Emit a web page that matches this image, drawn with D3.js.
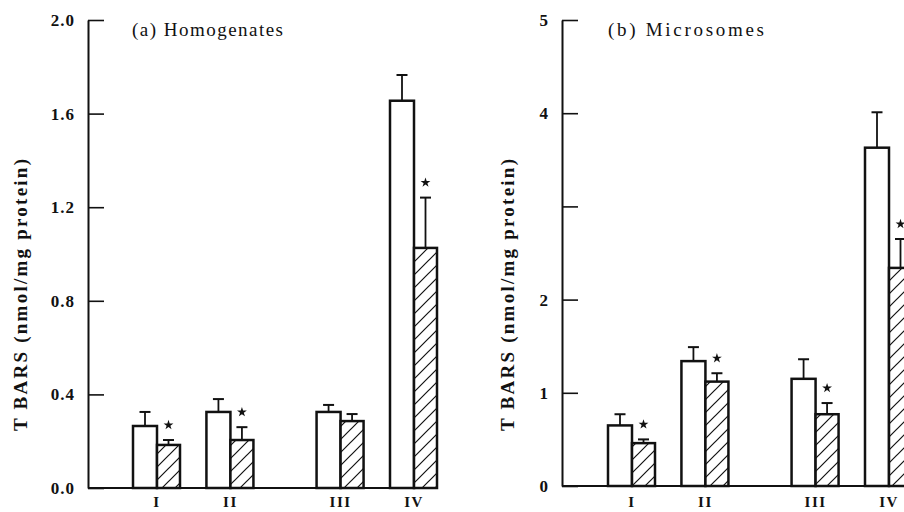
<!DOCTYPE html>
<html>
<head>
<meta charset="utf-8">
<script src="https://cdn.jsdelivr.net/npm/d3@7"></script>
<style>
  body { margin: 0; background: #fff; }
  text { font-family: "Liberation Serif", "Times New Roman", serif; fill: #111; }
</style>
</head>
<body>
<script>
const groups = ["I", "II", "III", "IV"];
// slots used to leave the wider gap between II and III
const slots = ["I", "s1", "II", "s2", "s3", "III", "s4", "IV"];

// (a) Homogenates
const homogControl = [0.265, 0.325, 0.325, 1.655];
const homogControlErr = [0.06, 0.055, 0.03, 0.11];
const homogTreated = [0.184, 0.205, 0.286, 1.026];
const homogTreatedErr = [0.021, 0.055, 0.03, 0.215];
const homogSig = [true, true, false, true];
const homogTicks = [0, 0.4, 0.8, 1.2, 1.6, 2.0];

// (b) Microsomes
const microControl = [0.65, 1.34, 1.15, 3.63];
const microControlErr = [0.12, 0.15, 0.21, 0.38];
const microTreated = [0.46, 1.12, 0.77, 2.34];
const microTreatedErr = [0.04, 0.09, 0.12, 0.31];
const microSig = [true, true, true, true];
const microTicks = [0, 1, 2, 3, 4, 5];
const microTickLabels = ["0", "1", "2", "", "4", "5"];

const yLabel = "T BARS (nmol/mg protein)";

const width = 904, height = 512;
const openW = 24, hatchW = 23;

const svg = d3.select("body").append("svg")
    .attr("width", width)
    .attr("height", height);

const pat = svg.append("defs").append("pattern")
    .attr("id", "hatch")
    .attr("patternUnits", "userSpaceOnUse")
    .attr("width", 13)
    .attr("height", 13);
pat.append("rect").attr("width", 13).attr("height", 13).attr("fill", "#fff");
pat.append("path")
    .attr("d", "M-3,3 L3,-3 M0,13 L13,0 M10,16 L16,10")
    .attr("stroke", "#111")
    .attr("stroke-width", 1.2);

const panels = [
  { title: "(a) Homogenates", titleX: 132, titleLen: 151, axisX: 88, x0: 157, bottom: 488, yMax: 2,
    ticks: homogTicks, fmt: d3.format(".1f"), labelX: 20,
    control: homogControl, controlErr: homogControlErr,
    treated: homogTreated, treatedErr: homogTreatedErr, sig: homogSig },
  { title: "(b) Microsomes", titleX: 608, titleLen: 156, axisX: 562, x0: 632, bottom: 486, yMax: 5,
    ticks: microTicks, fmt: (d, i) => microTickLabels[i], labelX: 507,
    control: microControl, controlErr: microControlErr,
    treated: microTreated, treatedErr: microTreatedErr, sig: microSig }
];

panels.forEach(p => {
  const x = d3.scalePoint().domain(slots).range([p.x0, p.x0 + 257]);
  const y = d3.scaleLinear().domain([0, p.yMax]).range([p.bottom, 20]);
  const g = svg.append("g");

  // y axis, ticks pointing inward
  const ax = g.append("g")
      .attr("transform", `translate(${p.axisX},0)`)
      .call(d3.axisLeft(y)
        .tickValues(p.ticks)
        .tickSizeInner(-16)
        .tickSizeOuter(0)
        .tickPadding(13)
        .tickFormat(p.fmt));
  ax.select(".domain").attr("stroke", "#111").attr("stroke-width", 2);
  ax.selectAll(".tick line").attr("stroke", "#111").attr("stroke-width", 1.6);
  ax.selectAll(".tick text")
      .style("font-family", "'Liberation Serif', serif")
      .style("font-size", "17px")
      .style("font-weight", "bold")
      .style("letter-spacing", "1px")
      .attr("fill", "#111");

  // baseline
  g.append("line")
      .attr("x1", p.axisX).attr("x2", x("IV") + hatchW)
      .attr("y1", y(0)).attr("y2", y(0))
      .attr("stroke", "#111").attr("stroke-width", 2.2);

  const rows = groups.map((k, i) => ({
    k, c: p.control[i], ce: p.controlErr[i], t: p.treated[i], te: p.treatedErr[i], s: p.sig[i]
  }));

  // error bars (upper only)
  const err = (cx, v, e) => {
    g.append("line").attr("x1", cx).attr("x2", cx)
        .attr("y1", y(v)).attr("y2", y(v + e))
        .attr("stroke", "#111").attr("stroke-width", 1.8);
    g.append("line").attr("x1", cx - 5.5).attr("x2", cx + 5.5)
        .attr("y1", y(v + e)).attr("y2", y(v + e))
        .attr("stroke", "#111").attr("stroke-width", 2);
  };
  rows.forEach(d => {
    err(x(d.k) - openW / 2, d.c, d.ce);
    err(x(d.k) + hatchW / 2, d.t, d.te);
  });

  g.selectAll(".open").data(rows).join("rect")
      .attr("class", "open")
      .attr("x", d => x(d.k) - openW)
      .attr("y", d => y(d.c))
      .attr("width", openW)
      .attr("height", d => y(0) - y(d.c))
      .attr("fill", "#fff").attr("stroke", "#111").attr("stroke-width", 2.5);

  g.selectAll(".hatched").data(rows).join("rect")
      .attr("class", "hatched")
      .attr("x", d => x(d.k))
      .attr("y", d => y(d.t))
      .attr("width", hatchW)
      .attr("height", d => y(0) - y(d.t))
      .attr("fill", "url(#hatch)").attr("stroke", "#111").attr("stroke-width", 2.5);

  // significance marks
  g.selectAll(".star").data(rows.filter(d => d.s)).join("path")
      .attr("class", "star")
      .attr("transform", d => `translate(${x(d.k) + hatchW / 2},${y(d.t + d.te) - 15})`)
      .attr("d", d3.symbol(d3.symbolStar, 30))
      .attr("fill", "#111");

  // category labels
  g.selectAll(".cat").data(groups).join("text")
      .attr("class", "cat")
      .attr("x", d => x(d))
      .attr("y", 507)
      .attr("text-anchor", "middle")
      .style("font-size", "15px")
      .style("font-weight", "bold")
      .style("letter-spacing", "1.5px")
      .text(d => d);

  // panel title
  g.append("text")
      .attr("x", p.titleX)
      .attr("y", 36)
      .attr("textLength", p.titleLen)
      .attr("lengthAdjust", "spacing")
      .style("font-size", "19px")
      .text(p.title);

  // y label
  g.append("text")
      .attr("transform", `translate(${p.labelX},295) rotate(-90)`)
      .attr("text-anchor", "middle")
      .attr("dy", "0.35em")
      .attr("textLength", 272)
      .attr("lengthAdjust", "spacing")
      .style("font-size", "19px")
      .style("font-weight", "bold")
      .text(yLabel);
});
</script>
</body>
</html>
